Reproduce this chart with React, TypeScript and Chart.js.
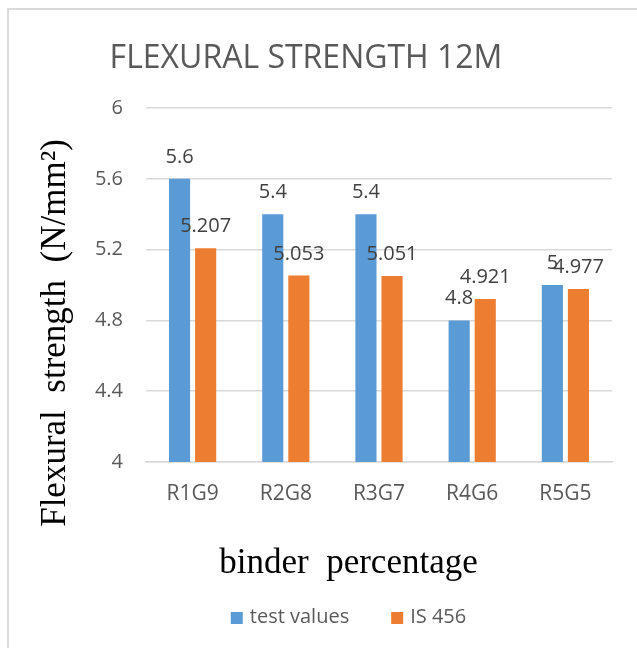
import React, { useEffect, useRef } from "react";
import { Chart, registerables } from "chart.js";

Chart.register(...registerables);

const categories = ["R1G9", "R2G8", "R3G7", "R4G6", "R5G5"];
const testValues = [5.6, 5.4, 5.4, 4.8, 5];
const is456Values = [5.207, 5.053, 5.051, 4.921, 4.977];
const seriesNames = ["test values", "IS 456"];
const seriesColors = ["#5B9BD5", "#ED7D31"];

const chartTitle = "FLEXURAL STRENGTH 12M";
const yAxisTitle = "Flexural  strength  (N/mm\u00B2)";
const xAxisTitle = "binder  percentage";

const SANS = "'Open Sans', 'Noto Sans', sans-serif";
const SERIF = "'Liberation Serif', 'DejaVu Serif', serif";

// Value labels drawn above each bar from the bar elements' positions
const valueLabels = {
  id: "valueLabels",
  afterDatasetsDraw(chart: any) {
    const { ctx } = chart;
    ctx.save();
    ctx.font = `20px ${SANS}`;
    ctx.fillStyle = "#404040";
    ctx.textAlign = "center";
    ctx.textBaseline = "alphabetic";
    chart.data.datasets.forEach((ds: any, i: number) => {
      const meta = chart.getDatasetMeta(i);
      meta.data.forEach((bar: any, j: number) => {
        const v = ds.data[j];
        ctx.fillText(String(v), bar.x, bar.y - 16);
      });
    });
    ctx.restore();
  },
};

// Chart title, axis captions and legend, placed like the spreadsheet layout
const captions = {
  id: "captions",
  afterDraw(chart: any) {
    const { ctx, chartArea } = chart;
    ctx.save();
    // main title
    ctx.font = `32px ${SANS}`;
    ctx.fillStyle = "#595959";
    ctx.textAlign = "center";
    ctx.textBaseline = "alphabetic";
    ctx.fillText(chartTitle, 306, 68);

    // y axis caption
    ctx.font = `35px ${SERIF}`;
    ctx.fillStyle = "#000000";
    ctx.save();
    ctx.translate(65, (chartArea.top + chartArea.bottom) / 2 + 48);
    ctx.rotate(-Math.PI / 2);
    ctx.textAlign = "center";
    ctx.fillText(yAxisTitle, 0, 0);
    ctx.restore();

    // x axis caption
    ctx.textAlign = "center";
    ctx.fillText(xAxisTitle, 348.5, 573);

    // legend
    ctx.font = `20px ${SANS}`;
    const box = 12;
    const gap = 7;
    const itemGap = 42;
    const widths = chart.data.datasets.map((ds: any) => ctx.measureText(ds.label).width);
    const total = widths.reduce((a: number, w: number) => a + box + gap + w, 0) + itemGap * (widths.length - 1);
    let x = 348.5 - total / 2;
    const baseY = 623;
    chart.data.datasets.forEach((ds: any, i: number) => {
      ctx.fillStyle = ds.backgroundColor;
      ctx.fillRect(x, baseY - 11, box, box);
      x += box + gap;
      ctx.fillStyle = "#595959";
      ctx.textAlign = "left";
      ctx.fillText(ds.label, x, baseY);
      x += widths[i] + itemGap;
    });
    ctx.restore();
  },
};

export default function App() {
  const canvasRef = useRef<HTMLCanvasElement | null>(null);

  useEffect(() => {
    if (!canvasRef.current) return;
    const chart = new Chart(canvasRef.current, {
      type: "bar",
      data: {
        labels: categories,
        datasets: [
          {
            label: seriesNames[0],
            data: testValues,
            backgroundColor: seriesColors[0],
            categoryPercentage: 0.56,
            barPercentage: 0.81,
          },
          {
            label: seriesNames[1],
            data: is456Values,
            backgroundColor: seriesColors[1],
            categoryPercentage: 0.56,
            barPercentage: 0.81,
          },
        ],
      },
      options: {
        responsive: false,
        animation: false,
        devicePixelRatio: 1,
        layout: { padding: { left: 0, right: 25, top: 108, bottom: 0 } },
        plugins: {
          legend: { display: false },
          title: { display: false },
          tooltip: { enabled: false },
        },
        scales: {
          x: {
            grid: { display: false, drawTicks: false },
            border: { display: true, color: "#D9D9D9", width: 1.5 },
            ticks: {
              color: "#595959",
              font: { family: SANS, size: 21 },
              padding: 19,
              maxRotation: 0,
            },
            afterFit(scale: any) {
              scale.height = 186;
            },
          },
          y: {
            min: 4,
            max: 6,
            grid: { color: "#D9D9D9", lineWidth: 1.5, drawTicks: false },
            border: { display: false },
            ticks: {
              stepSize: 0.4,
              color: "#595959",
              font: { family: SANS, size: 20 },
              padding: 23,
              callback: (v: any) => String(Number(Number(v).toFixed(1))),
            },
            afterFit(scale: any) {
              scale.width = 146;
            },
          },
        },
      },
      plugins: [valueLabels, captions],
    });
    return () => chart.destroy();
  }, []);

  return (
    <div
      style={{
        position: "fixed",
        left: 0,
        top: 0,
        width: 637,
        height: 648,
        overflow: "hidden",
        background: "#ffffff",
      }}
    >
      <div
        style={{
          position: "absolute",
          left: 7,
          top: 8,
          width: 700,
          height: 700,
          borderTop: "2px solid #DADADA",
          borderLeft: "2px solid #DADADA",
        }}
      />
      <canvas
        ref={canvasRef}
        width={637}
        height={648}
        style={{ position: "absolute", left: 0, top: 0 }}
      />
    </div>
  );
}
